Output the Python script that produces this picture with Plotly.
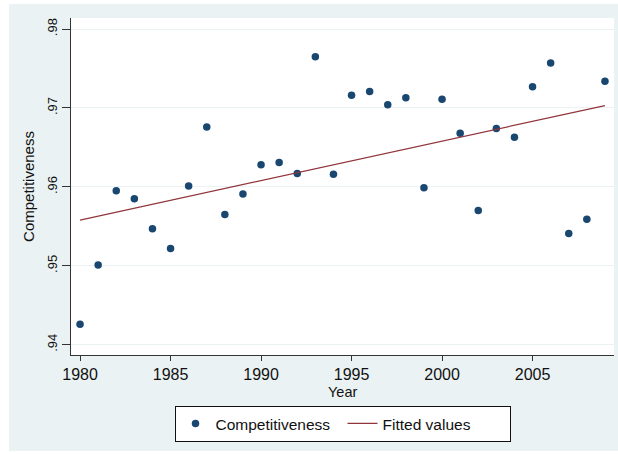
import plotly.graph_objects as go

years = list(range(1980, 2010))
competitiveness = [0.9426, 0.9501, 0.9595, 0.9585, 0.9547, 0.9522, 0.9601, 0.9676,
                   0.9565, 0.9591, 0.9628, 0.9631, 0.9617, 0.9765, 0.9616, 0.9716,
                   0.9721, 0.9704, 0.9713, 0.9599, 0.9711, 0.9668, 0.9570, 0.9674,
                   0.9663, 0.9727, 0.9757, 0.9541, 0.9559, 0.9734]
fit_years = [1980, 2009]
fit_values = [0.9558, 0.9703]

x_ticks = [1980, 1985, 1990, 1995, 2000, 2005]
y_ticks = [0.94, 0.95, 0.96, 0.97, 0.98]
y_tick_labels = [".94", ".95", ".96", ".97", ".98"]

FONT = "Liberation Sans, Arial, sans-serif"

fig = go.Figure()
fig.add_trace(go.Scatter(
    x=years, y=competitiveness, mode="markers", name="Competitiveness",
    marker=dict(color="#1A476F", size=7.5, line=dict(width=0)),
))
fig.add_trace(go.Scatter(
    x=fit_years, y=fit_values, mode="lines", name="Fitted values",
    line=dict(color="#90353B", width=1.2),
))

fig.update_layout(
    width=618, height=454,
    margin=dict(l=71, r=4, t=18, b=99),
    paper_bgcolor="white",
    plot_bgcolor="white",
    font=dict(family=FONT, color="#111111"),
    shapes=[
        dict(type="rect", xref="paper", yref="paper", x0=-0.1142, x1=1.01,
             y0=-0.2849, y1=1.0415, fillcolor="#EAF2F3", line=dict(width=0), layer="below"),
        dict(type="rect", xref="paper", yref="paper", x0=0, x1=1, y0=0, y1=1,
             fillcolor="white", line=dict(width=0), layer="below"),
    ],
    annotations=[
        dict(text="Year", xref="paper", yref="paper", x=0.5, y=-0.109,
             xanchor="center", yanchor="middle", showarrow=False,
             font=dict(size=14.5, family=FONT, color="#111111")),
    ],
    legend=dict(
        orientation="h", x=0.5, xanchor="center", y=-0.151, yanchor="top",
        bgcolor="white", bordercolor="#111111", borderwidth=1,
        font=dict(size=15.5, family=FONT), entrywidth=122,
    ),
    showlegend=True,
)
fig.update_xaxes(
    range=[1979.5, 2009.5], tickvals=x_ticks, ticks="outside", ticklen=5,
    tickcolor="#333333", showline=True, linecolor="#333333", linewidth=1,
    showgrid=False, zeroline=False, tickfont=dict(size=16),
)
fig.update_yaxes(
    range=[0.9387, 0.9814], tickvals=y_ticks, ticktext=y_tick_labels,
    ticks="outside", ticklen=8, tickcolor="#333333", tickangle=-90,
    showline=True, linecolor="#333333", linewidth=1,
    showgrid=True, gridcolor="#EAF2F3", gridwidth=1, zeroline=False,
    tickfont=dict(size=13),
    title=dict(text="Competitiveness", font=dict(size=15), standoff=6),
)

fig.write_html("out.html", config={"displayModeBar": False},
               post_script="document.body.style.margin='0';")
